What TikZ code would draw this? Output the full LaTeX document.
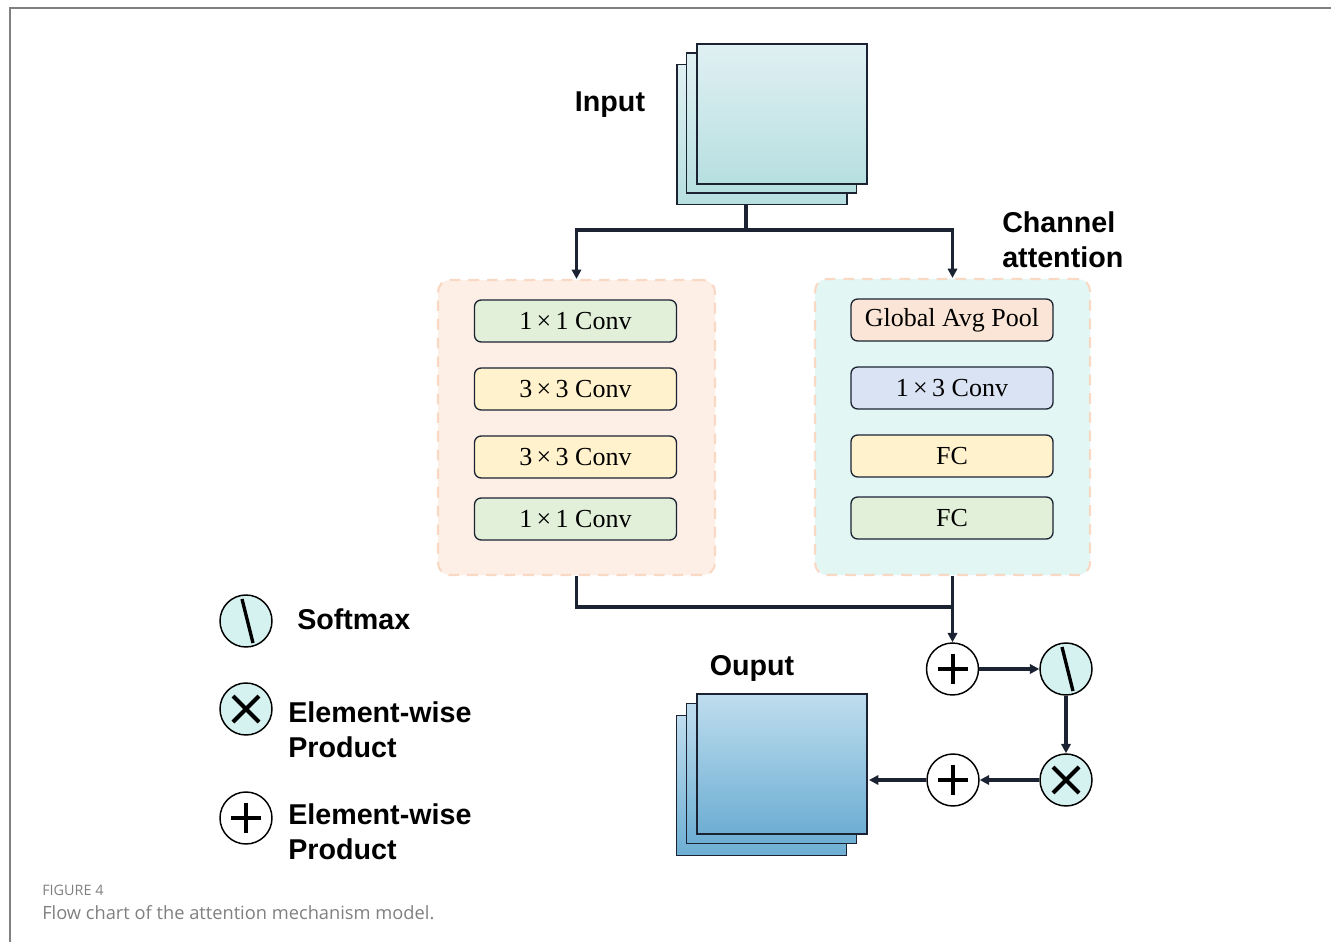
\documentclass[tikz,border=0pt]{standalone}
\usepackage{fontspec}
\setmainfont{Liberation Serif}
\newfontfamily\lsans{Liberation Sans}
\newfontfamily\capfont{Open Sans}
\usetikzlibrary{arrows.meta,calc}
\definecolor{navy}{HTML}{1B2333}
\definecolor{cgreen}{HTML}{E2F0D9}
\definecolor{cyellow}{HTML}{FFF2CC}
\definecolor{cpeach}{HTML}{FBE5D6}
\definecolor{cblue}{HTML}{DAE3F3}
\definecolor{lbg}{HTML}{FDEEE6}
\definecolor{rbg}{HTML}{E2F6F4}
\definecolor{dashc}{HTML}{F9D9C4}
\definecolor{smfill}{HTML}{D5F2F0}
\definecolor{capgray}{HTML}{808080}
\definecolor{inTop}{HTML}{E0F0F3}
\definecolor{inBot}{HTML}{B7DFE0}
\definecolor{outTop}{HTML}{BFDDEE}
\definecolor{outBot}{HTML}{6DAED3}
\tikzset{
  x=0.75pt, y=-0.75pt,
  layerbox/.style={draw=navy, line width=1pt, rounded corners=5pt, minimum width={202*0.75pt}, minimum height={42*0.75pt}, inner sep=0pt, font=\fontsize{19.5}{22}\selectfont},
  container/.style={draw=dashc, line width=1.6pt, dash pattern=on 8pt off 6pt, rounded corners=9pt, inner sep=0pt},
  sheet/.style={draw=navy, line width=1.2pt, minimum width={170*0.75pt}, minimum height={140*0.75pt}, inner sep=0pt},
  insheet/.style={sheet, top color=inTop, bottom color=inBot},
  outsheet/.style={sheet, top color=outTop, bottom color=outBot},
  lbl/.style={font=\lsans\bfseries\fontsize{21.5}{26}\selectfont, inner sep=0pt},
  conn/.style={draw=navy, line width=2.5pt},
  arr/.style={conn, -{Triangle[length=7pt,width=7pt]}},
  op/.style={circle, draw=black, line width=1.1pt, minimum size={52*0.75pt}, inner sep=0pt},
  sym/.style={line width=3pt, black},
}
\begin{document}
\begin{tikzpicture}
\useasboundingbox (0,0) rectangle (1331,942);
\fill[white] (0,0) rectangle (1331,942);
% frame
\draw[capgray, line width=1.6pt] (10,942) -- (10,8) -- (1331,8);

% input stack
\node[insheet] (inC) at (762,134.5) {};
\node[insheet] (inB) at (771.5,123) {};
\node[insheet] (inA) at (782,114) {};
\node[lbl] (inlbl) at (610,105) {Input};

% containers
\node[container, fill=lbg, minimum width={277*0.75pt}, minimum height={295*0.75pt}] (lc) at (576.5,427.5) {};
\node[container, fill=rbg, minimum width={275*0.75pt}, minimum height={296*0.75pt}] (rc) at (952.5,427) {};
\node[lbl, anchor=west, align=left] (chlbl) at (1002,240) {Channel\\attention};

% left layers
\node[layerbox, fill=cgreen] (l1) at (575.5,321) {1\,×\,1 Conv};
\node[layerbox, fill=cyellow] (l2) at (575.5,389) {3\,×\,3 Conv};
\node[layerbox, fill=cyellow] (l3) at (575.5,457) {3\,×\,3 Conv};
\node[layerbox, fill=cgreen] (l4) at (575.5,519) {1\,×\,1 Conv};
% right layers
\node[layerbox, fill=cpeach] (r1) at (952,320) {Global Avg Pool};
\node[layerbox, fill=cblue] (r2) at (952,388) {1\,×\,3 Conv};
\node[layerbox, fill=cyellow] (r3) at (952,456) {FC};
\node[layerbox, fill=cgreen] (r4) at (952,518) {FC};

% split
\coordinate (stem) at (746,205);
\coordinate (split) at (746,230);
\draw[conn] (stem) -- (split);
\draw[arr] (split) -| (lc.north);
\draw[arr] (split) -| (rc.north);

% operators
\node[op, fill=white] (p1) at (952.5,669) {};
\node[op, fill=smfill] (sm) at (1066,669) {};
\node[op, fill=smfill] (tm) at (1066,780) {};
\node[op, fill=white] (p2) at (953,780) {};
\draw[sym] ([shift={(-15,0)}]p1.center) -- ([shift={(15,0)}]p1.center);
\draw[sym] ([shift={(0,-15)}]p1.center) -- ([shift={(0,15)}]p1.center);
\draw[sym] ([shift={(-15,0)}]p2.center) -- ([shift={(15,0)}]p2.center);
\draw[sym] ([shift={(0,-15)}]p2.center) -- ([shift={(0,15)}]p2.center);
\draw[sym] ([shift={(-13,-13)}]tm.center) -- ([shift={(13,13)}]tm.center);
\draw[sym] ([shift={(-13,13)}]tm.center) -- ([shift={(13,-13)}]tm.center);
\draw[sym, line width=2.5pt] ([shift={(-4,-22)}]sm.center) -- ([shift={(7,22)}]sm.center);

% merge
\coordinate (merge) at (952.5,607);
\draw[conn] (lc.south) |- (merge);
\draw[arr] (rc.south) -- (p1.north);
\draw[arr] (p1.east) -- (sm.west);
\draw[arr] (sm.south) -- (tm.north);
\draw[arr] (tm.west) -- (p2.east);

% output stack
\node[outsheet] (outC) at (761.5,785.5) {};
\node[outsheet] (outB) at (771.5,773.5) {};
\node[outsheet] (outA) at (782,764) {};
\node[lbl] (outlbl) at (752,668) {Ouput};
\coordinate (outin) at (869,780);
\draw[arr] (p2.west) -- (outin);

% legend
\node[op, fill=smfill] (lgsm) at (246,621) {};
\draw[sym, line width=2.5pt] ([shift={(-4,-22)}]lgsm.center) -- ([shift={(7,22)}]lgsm.center);
\node[lbl, anchor=west] (lgsmt) at (297,619) {Softmax};
\node[op, fill=smfill] (lgtm) at (246,709) {};
\draw[sym] ([shift={(-13,-13)}]lgtm.center) -- ([shift={(13,13)}]lgtm.center);
\draw[sym] ([shift={(-13,13)}]lgtm.center) -- ([shift={(13,-13)}]lgtm.center);
\node[lbl, anchor=west, align=left] (lgtmt) at (288,730) {Element-wise\\Product};
\node[op, fill=white] (lgp) at (246,818) {};
\draw[sym] ([shift={(-15,0)}]lgp.center) -- ([shift={(15,0)}]lgp.center);
\draw[sym] ([shift={(0,-15)}]lgp.center) -- ([shift={(0,15)}]lgp.center);
\node[lbl, anchor=west, align=left] (lgpt) at (288,832) {Element-wise\\Product};

% caption
\node[anchor=west, inner sep=0pt, text=capgray, font=\capfont\fontsize{10.8}{13}\selectfont] (figno) at (42,890) {FIGURE 4};
\node[anchor=west, inner sep=0pt, text=capgray, font=\capfont\fontsize{13.7}{16}\selectfont] (cap) at (42,913) {Flow chart of the attention mechanism model.};
\end{tikzpicture}
\end{document}
